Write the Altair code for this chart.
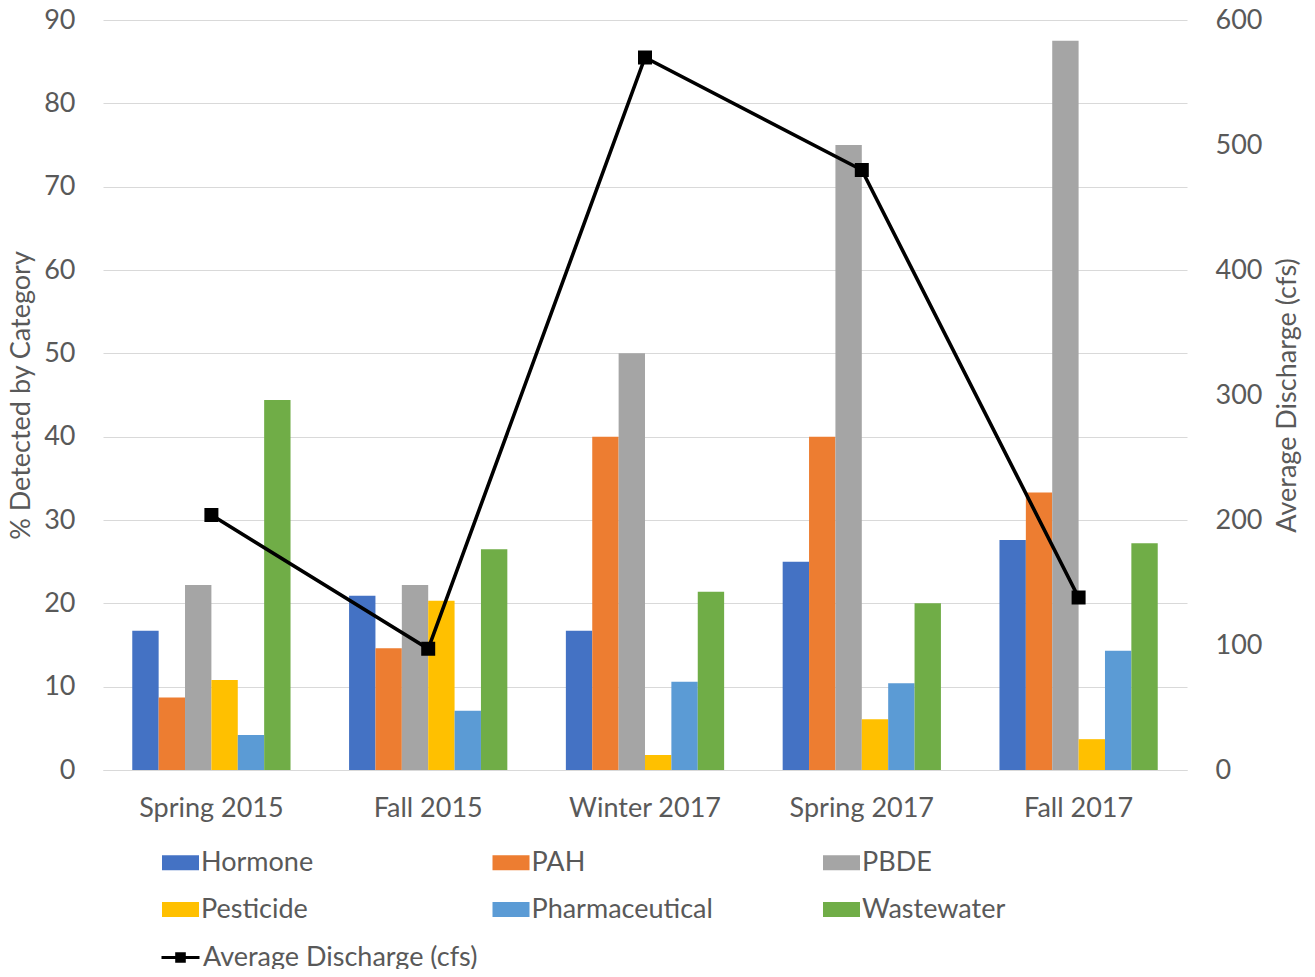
import altair as alt
import pandas as pd

categories = ["Spring 2015", "Fall 2015", "Winter 2017", "Spring 2017", "Fall 2017"]
series = ["Hormone", "PAH", "PBDE", "Pesticide", "Pharmaceutical", "Wastewater"]
colors = ["#4472C4", "#ED7D31", "#A5A5A5", "#FFC000", "#5B9BD5", "#70AD47"]
# legend is filled column by column: order the entries so rows read as in the reference
legend_order = ["Hormone", "Pesticide", "PAH", "Pharmaceutical", "PBDE", "Wastewater"]

hormone = [16.7, 20.9, 16.7, 25.0, 27.6]
pah = [8.7, 14.6, 40.0, 40.0, 33.3]
pbde = [22.2, 22.2, 50.0, 75.0, 87.5]
pesticide = [10.8, 20.3, 1.8, 6.1, 3.7]
pharmaceutical = [4.2, 7.1, 10.6, 10.4, 14.3]
wastewater = [44.4, 26.5, 21.4, 20.0, 27.2]
discharge = [204, 97, 570, 480, 138]
line_name = "Average Discharge (cfs)"

values_by_series = [hormone, pah, pbde, pesticide, pharmaceutical, wastewater]
rows = []
for s, vals in zip(series, values_by_series):
    for c, v in zip(categories, vals):
        rows.append({"Season": c, "Category": s, "Value": v})
bar_df = pd.DataFrame(rows)
line_df = pd.DataFrame({"Season": categories, "Discharge": discharge, "Series": [line_name] * len(categories)})

color_map = dict(zip(series, colors))

FONT = "Lato"
TXT = "#595959"
GRID = "#D9D9D9"
FS = 27

x_enc = alt.X(
    "Season:N", sort=categories,
    scale=alt.Scale(paddingInner=0.27, paddingOuter=0.135),
    axis=alt.Axis(title=None, labelAngle=0, labelFontSize=FS, labelFont=FONT, labelColor=TXT,
                  labelPadding=25, ticks=False, domainColor=GRID, domainWidth=1),
)

bars = alt.Chart(bar_df).mark_bar().encode(
    x=x_enc,
    xOffset=alt.XOffset("Category:N", sort=series, scale=alt.Scale(paddingInner=0, paddingOuter=0)),
    y=alt.Y("Value:Q", scale=alt.Scale(domain=[0, 90], nice=False),
            axis=alt.Axis(title="% Detected by Category", values=list(range(0, 91, 10)),
                          grid=True, gridColor=GRID, gridWidth=1, domain=False, ticks=False,
                          labelFontSize=FS, labelFont=FONT, labelColor=TXT, labelPadding=28,
                          titleFontSize=FS, titleFont=FONT, titleColor=TXT, titleFontWeight="normal",
                          titlePadding=8)),
    color=alt.Color("Category:N",
                    scale=alt.Scale(domain=legend_order, range=[color_map[s] for s in legend_order]),
                    legend=alt.Legend(title=None, orient="none", legendX=59, legendY=824,
                                      columns=3, gridAlign="all", columnPadding=109.5, rowPadding=15,
                                      symbolType="M-1,-0.4H1V0.4H-1Z", symbolSize=1369,
                                      symbolStrokeWidth=0, labelOffset=2, labelLimit=400,
                                      labelFontSize=FS, labelFont=FONT, labelColor=TXT)),
)

y2 = alt.Y("Discharge:Q", scale=alt.Scale(domain=[0, 600], nice=False),
           axis=alt.Axis(title="Average Discharge (cfs)", orient="right", values=list(range(0, 601, 100)),
                         grid=False, domain=False, ticks=False,
                         labelFontSize=FS, labelFont=FONT, labelColor=TXT, labelPadding=28,
                         titleFontSize=FS, titleFont=FONT, titleColor=TXT, titleFontWeight="normal",
                         titlePadding=13, titleAngle=270, titleBaseline="top"))

line = alt.Chart(line_df).mark_line(strokeWidth=3.6).encode(
    x=alt.X("Season:N", sort=categories),
    y=y2,
    stroke=alt.Stroke("Series:N", scale=alt.Scale(domain=[line_name], range=["black"]),
                      legend=alt.Legend(title=None, orient="none", legendX=57, legendY=917,
                                        symbolType="M-1,0H1M-0.2,-0.2H0.2V0.2H-0.2Z", symbolSize=1444,
                                        symbolStrokeWidth=3, symbolFillColor="black", labelOffset=2,
                                        labelLimit=400,
                                        labelFontSize=FS, labelFont=FONT, labelColor=TXT)),
)

points = alt.Chart(line_df).mark_square(size=196, color="black", opacity=1, filled=True).encode(
    x=alt.X("Season:N", sort=categories),
    y=y2,
)

chart = alt.layer(bars, alt.layer(line, points)).resolve_scale(y="independent").properties(
    width=1084, height=750,
    autosize=alt.AutoSizeParams(type="none"),
    padding={"left": 95, "top": 12, "right": 120, "bottom": 199},
).configure_view(stroke=None)

chart.save("out.html", embed_options={"renderer": "svg", "actions": False})
